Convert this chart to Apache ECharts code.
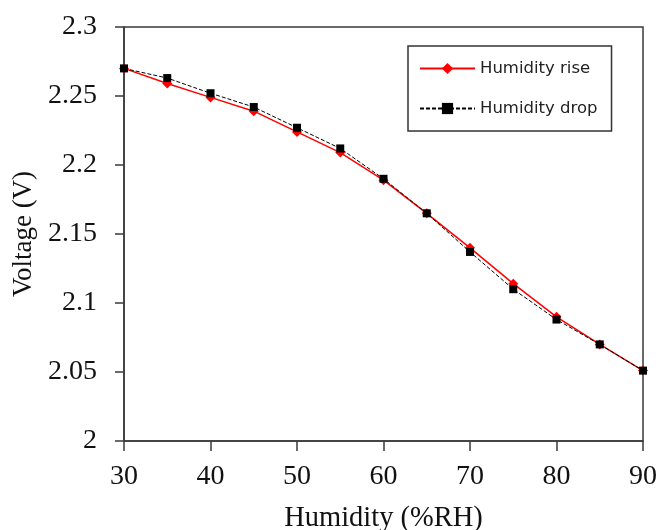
<!DOCTYPE html>
<html>
<head>
<meta charset="utf-8">
<script src="https://cdn.jsdelivr.net/npm/echarts@6/dist/echarts.min.js"></script>
<style>
  html, body { margin: 0; padding: 0; background: #fff; }
  #chart { width: 658px; height: 530px; }
</style>
</head>
<body>
<div id="chart"></div>
<script>
// Humidity sweep (%RH)
const humidity = [30, 35, 40, 45, 50, 55, 60, 65, 70, 75, 80, 85, 90];
// Output voltage while humidity increases
const riseVoltage = [2.270, 2.259, 2.249, 2.239, 2.224, 2.209, 2.189, 2.165, 2.140, 2.114, 2.090, 2.070, 2.051];
// Output voltage while humidity decreases
const dropVoltage = [2.270, 2.263, 2.252, 2.242, 2.227, 2.212, 2.190, 2.165, 2.137, 2.110, 2.088, 2.070, 2.051];
// Axis tick labels
const xTickLabels = ['30', '40', '50', '60', '70', '80', '90'];
const yTickLabels = ['2', '2.05', '2.1', '2.15', '2.2', '2.25', '2.3'];

const serif = '"Liberation Serif", "Times New Roman", serif';
const axisColor = '#3a3a3a';

const chart = echarts.init(document.getElementById('chart'), null, { renderer: 'canvas' });

chart.setOption({
  animation: false,
  backgroundColor: '#ffffff',
  grid: {
    left: 124, top: 27, right: 15, bottom: 89,
    containLabel: false,
    outerBoundsMode: 'none',
    show: true, borderColor: axisColor, borderWidth: 1.5, backgroundColor: 'transparent'
  },
  legend: {
    left: 408, top: 46,
    orient: 'vertical',
    padding: [14, 14, 14, 11],
    itemWidth: 55, itemHeight: 14, itemGap: 23,
    borderColor: '#333', borderWidth: 1.5,
    backgroundColor: '#fff',
    textStyle: { fontFamily: '"DejaVu Sans", Verdana, sans-serif', fontSize: 16.5, color: '#222' },
    data: ['Humidity rise', 'Humidity drop']
  },
  xAxis: {
    type: 'value',
    min: 30, max: 90, interval: 10,
    name: 'Humidity (%RH)',
    nameLocation: 'middle', nameGap: 63,
    nameTextStyle: { fontFamily: serif, fontSize: 28.5, color: '#111' },
    axisLine: { show: true, lineStyle: { color: axisColor, width: 1.5 } },
    axisTick: { show: true, inside: false, length: 10, lineStyle: { color: axisColor, width: 1.5 } },
    axisLabel: {
      margin: 22, fontFamily: serif, fontSize: 28, color: '#111',
      formatter: v => xTickLabels[Math.round((v - 30) / 10)]
    },
    splitLine: { show: false }
  },
  yAxis: {
    type: 'value',
    min: 2, max: 2.3, interval: 0.05,
    name: 'Voltage (V)',
    nameLocation: 'middle', nameGap: 81, nameRotate: 90,
    nameTextStyle: { fontFamily: serif, fontSize: 27, color: '#111' },
    axisLine: { show: true, lineStyle: { color: axisColor, width: 1.5 } },
    axisTick: { show: true, inside: false, length: 9, lineStyle: { color: axisColor, width: 1.5 } },
    axisLabel: {
      margin: 27, fontFamily: serif, fontSize: 28, color: '#111',
      formatter: v => yTickLabels[Math.round((v - 2) / 0.05)]
    },
    splitLine: { show: false }
  },
  series: [
    {
      name: 'Humidity rise',
      type: 'line',
      data: humidity.map((h, i) => [h, riseVoltage[i]]),
      symbol: 'diamond', symbolSize: 10,
      itemStyle: { color: '#ff0000' },
      lineStyle: { color: '#ff0000', width: 1.5 },
      z: 2
    },
    {
      name: 'Humidity drop',
      type: 'line',
      data: humidity.map((h, i) => [h, dropVoltage[i]]),
      symbol: 'rect', symbolSize: 8,
      itemStyle: { color: '#000000' },
      lineStyle: { color: '#000000', width: 1, type: [4, 2] },
      z: 3
    }
  ]
});
</script>
</body>
</html>
